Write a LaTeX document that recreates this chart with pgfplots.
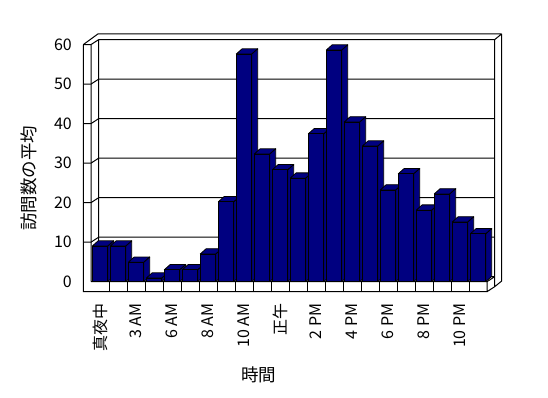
\documentclass[border=0pt]{standalone}
\usepackage{fontspec}
\setmainfont{Noto Sans CJK JP}
\usepackage{pgfplots}
\usepackage{pgfplotstable}
\pgfplotsset{compat=1.18}
\definecolor{barblue}{RGB}{0,0,128}
\pgfplotstableread{
idx visits
0 9
1 9
2 4.9
3 0.9
4 3
5 3
6 7
7 20.2
8 57.6
9 32.3
10 28.3
11 26.2
12 37.4
13 58.6
14 40.4
15 34.3
16 23.2
17 27.3
18 18.1
19 22.2
20 15.1
21 12.1
}\visits
\begin{document}
\begin{tikzpicture}
\begin{axis}[
  scale only axis, width=396pt, height=237.12pt,
  xmin=-0.5, xmax=21.5, ymin=0, ymax=60,
  clip=false,
  axis line style={draw=none},
  major tick length=0pt,
  tick style={draw=none},
  xtick={0,2,...,20},
  xticklabels={真夜中,3 AM,6 AM,8 AM,10 AM,正午,2 PM,4 PM,6 PM,8 PM,10 PM},
  ytick={0,10,...,60},
  /pgf/number format/assume math mode=true,
  tick label style={font=\fontsize{16}{19}\selectfont},
  xticklabel style={yshift=-21.6pt, rotate=90, anchor=east, inner sep=0pt},
  yticklabel style={xshift=-19pt, anchor=east, inner sep=0pt},
  xlabel={時間}, ylabel={訪問数の平均},
  label style={font=\fontsize{17.5}{21}\selectfont},
  xlabel style={at={(axis description cs:0.4242,-0.3935)}, anchor=center},
  ylabel style={at={(axis description cs:-0.1566,0.4353)}, anchor=center},
]
% bounding box matching the reference canvas
\path (axis cs:-5.556,-29.43) rectangle (axis cs:24.889,71.28);
% walls and floor
\draw[line width=1pt]
  (axis cs:-0.9278,60) -- (axis cs:-0.9278,-2.53) -- (axis cs:21.5,-2.53) -- (axis cs:21.5,0)
  (axis cs:-0.5,0) -- (axis cs:21.5,0)
  (axis cs:-0.5,60) -- (axis cs:-0.5,0)
  (axis cs:-0.9278,60) -- (axis cs:-0.5,60)
  (axis cs:-0.9278,60) -- (axis cs:-0.1111,62.707) -- (axis cs:22.3167,62.707)
  (axis cs:-0.5,60) -- (axis cs:-0.0722,61.265) -- (axis cs:21.9278,61.265) -- (axis cs:22.3167,62.707)
  (axis cs:-0.0722,61.265) -- (axis cs:-0.0722,1.265) -- (axis cs:21.9278,1.265)
  (axis cs:21.9278,61.265) -- (axis cs:21.9278,-1.265)
  (axis cs:22.3167,62.707) -- (axis cs:22.3167,0.177) -- (axis cs:21.9278,-1.265)
  (axis cs:21.5,0) -- (axis cs:21.9278,1.265)
  (axis cs:21.5,-2.53) -- (axis cs:21.9278,-1.265);
% gridlines: front tick, left wall diagonal, back wall line
\draw[line width=1pt]
  (axis cs:-0.9278,10) -- (axis cs:-0.5,10) -- (axis cs:-0.0722,11.265) -- (axis cs:21.9278,11.265)
  (axis cs:-0.9278,20) -- (axis cs:-0.5,20) -- (axis cs:-0.0722,21.265) -- (axis cs:21.9278,21.265)
  (axis cs:-0.9278,30) -- (axis cs:-0.5,30) -- (axis cs:-0.0722,31.265) -- (axis cs:21.9278,31.265)
  (axis cs:-0.9278,40) -- (axis cs:-0.5,40) -- (axis cs:-0.0722,41.265) -- (axis cs:21.9278,41.265)
  (axis cs:-0.9278,50) -- (axis cs:-0.5,50) -- (axis cs:-0.0722,51.265) -- (axis cs:21.9278,51.265);
% floor category ticks
\pgfplotsinvokeforeach{0.5,1.5,...,20.5}{
  \draw[line width=1pt] (axis cs:#1,0) -- (axis cs:#1,-2.53);
}
% bar top and side faces
\pgfplotsinvokeforeach{0,...,21}{
  \pgfplotstablegetelem{#1}{visits}\of\visits
  \pgfmathsetmacro\xa{#1-0.433}
  \pgfmathsetmacro\xb{#1+0.433}
  \pgfmathsetmacro\xc{#1+0.433+0.33}
  \pgfmathsetmacro\xd{#1-0.433+0.33}
  \pgfmathsetmacro\yv{\pgfplotsretval}
  \pgfmathsetmacro\yt{\pgfplotsretval+1.34}
  \edef\temp{%
    \noexpand\addplot[fill=barblue, draw=black, line width=0.8pt, line join=round] coordinates
      {(\xa,\yv) (\xd,\yt) (\xc,\yt) (\xb,\yv) (\xa,\yv)};
    \noexpand\addplot[fill=barblue, draw=black, line width=0.8pt, line join=round] coordinates
      {(\xb,0) (\xb,\yv) (\xc,\yt) (\xc,1.34) (\xb,0)};
  }\temp
}
% bar front faces
\addplot[ybar, bar width=0.867, fill=barblue, draw=black, line width=0.8pt]
  table[x=idx, y=visits]{\visits};
\end{axis}
\end{tikzpicture}
\end{document}
